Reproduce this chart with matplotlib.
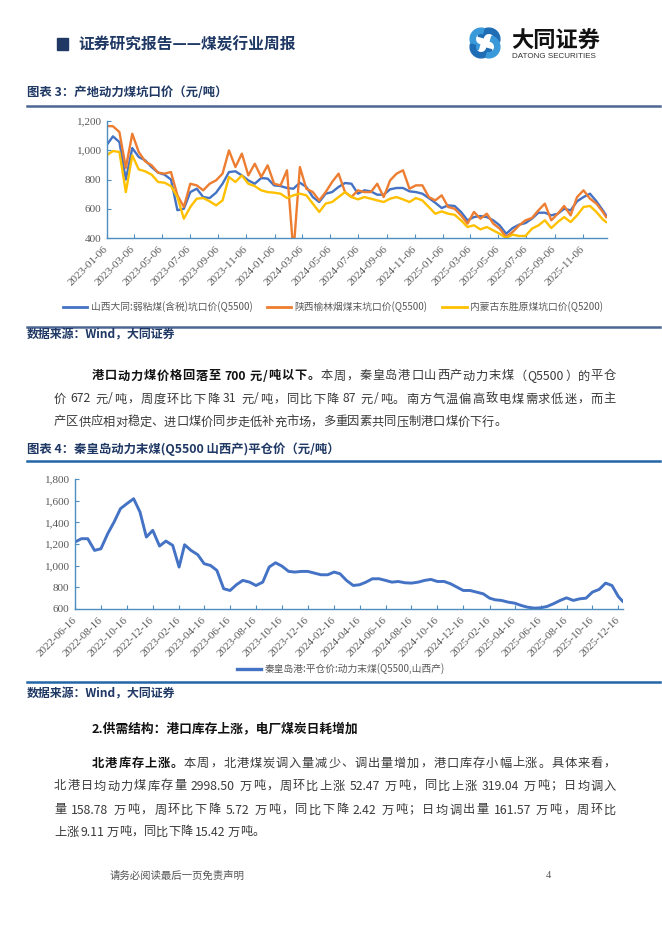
import matplotlib
matplotlib.use("Agg")
import matplotlib.pyplot as plt
import matplotlib.dates as mdates
from matplotlib.patches import Rectangle, Wedge
from matplotlib.lines import Line2D
from matplotlib.ticker import FuncFormatter, FixedLocator
import numpy as np
import pandas as pd

CJK = ["Noto Sans CJK SC", "DejaVu Sans"]
SERIF = ["Liberation Serif", "DejaVu Serif"]
plt.rcParams["font.family"] = CJK

# ---------------- Chart 3 data (weekly prices, sampled every 2 weeks) ----------------
c3_dates = list(pd.date_range("2023-01-06", periods=78, freq="14D")) + [pd.Timestamp("2025-12-26")]
c3_shanxi = [1034, 1095, 1056, 800, 1015, 954, 931, 885, 847, 833,
             800, 590, 600, 714, 737, 680, 673, 710, 771, 851,
             856, 828, 794, 771, 810, 806, 760, 755, 742, 737,
             778, 749, 680, 646, 703, 714, 749, 776, 771, 703,
             726, 719, 696, 696, 733, 742, 742, 719, 714, 703,
             673, 641, 605, 623, 619, 578, 521, 543, 550, 543,
             521, 486, 429, 468, 491, 502, 532, 573, 573, 555,
             566, 600, 589, 651, 680, 703, 651, 589, 555]
c3_shaanxi = [1166, 1164, 1125, 880, 1113, 988, 924, 897, 847, 840,
              851, 692, 612, 771, 760, 726, 771, 794, 840, 999,
              885, 977, 828, 908, 817, 897, 771, 760, 863, 300,
              885, 737, 714, 657, 714, 783, 840, 714, 680, 726,
              714, 714, 771, 680, 794, 840, 863, 737, 760, 760,
              680, 657, 692, 612, 600, 555, 498, 578, 532, 566,
              498, 464, 407, 441, 486, 521, 537, 589, 635, 521,
              566, 619, 555, 680, 726, 669, 635, 578, 543]
c3_neimeng = [965, 995, 988, 714, 965, 869, 856, 833, 783, 778,
              755, 680, 532, 612, 669, 673, 651, 623, 657, 817,
              783, 828, 771, 755, 726, 714, 710, 703, 673, 692,
              703, 692, 635, 578, 635, 646, 680, 714, 680, 664,
              680, 669, 657, 646, 669, 680, 664, 646, 673, 657,
              612, 566, 582, 566, 559, 521, 475, 487, 459, 475,
              452, 429, 400, 423, 414, 414, 464, 486, 521, 468,
              509, 543, 509, 555, 612, 619, 578, 527, 509]
c3_names = ["山西大同:弱粘煤(含税)坑口价(Q5500)", "陕西榆林烟煤末坑口价(Q5500)", "内蒙古东胜原煤坑口价(Q5200)"]
c3_colors = ["#4472C4", "#ED7D31", "#FFC000"]
c3_xticks = pd.date_range("2023-01-06", "2025-11-06", freq=pd.DateOffset(months=2))
c3_yticks = [400, 600, 800, 1000, 1200]

# ---------------- Chart 4 data (semi-monthly readings) ----------------
c4_dates = ["2022-06-16"]
for yy in range(2022, 2026):
    for mm in range(1, 13):
        if yy == 2022 and mm < 7:
            continue
        c4_dates += [f"{yy}-{mm:02d}-01", f"{yy}-{mm:02d}-16"]
c4_dates += ["2025-12-26"]
c4_dates = pd.to_datetime(c4_dates)
c4_values = ([1218, 1249, 1249, 1141, 1156, 1295, 1403, 1526, 1572, 1618, 1495, 1264, 1326] +
             [1181, 1227, 1187, 987, 1193, 1141, 1101, 1018, 1002, 956, 787, 771,
              824, 864, 848, 817, 848, 987, 1027, 996, 947, 941, 947, 947] +
             [931, 916, 916, 941, 925, 864, 817, 824, 848, 879, 879, 864,
              848, 854, 842, 839, 848, 864, 873, 854, 854, 833, 802, 771] +
             [771, 756, 740, 700, 685, 679, 663, 654, 633, 617, 608, 611,
              623, 648, 679, 703, 679, 694, 700, 756, 781, 839, 817, 715, 672])
c4_name = "秦皇岛港:平仓价:动力末煤(Q5500,山西产)"
c4_xticks = pd.date_range("2022-06-16", "2025-12-16", freq=pd.DateOffset(months=2))
c4_yticks = [600, 800, 1000, 1200, 1400, 1600, 1800]

# ---------------- page setup ----------------
W, H = 662, 936
fig = plt.figure(figsize=(W / 100, H / 100), dpi=100)
fig.patch.set_facecolor("white")
renderer = fig.canvas.get_renderer()


def fx(px):
    return px / W


def fy(py):
    return 1 - py / H


NAVY = "#1F3864"
AXC = "#4F8EC1"
TICKC = "#595959"


def hline(y, x0, x1, color, lw=1.6):
    fig.add_artist(Line2D([fx(x0), fx(x1)], [fy(y), fy(y)], color=color, lw=lw,
                          transform=fig.transFigure))


def is_wide(ch):
    o = ord(ch)
    return o >= 0x2E80 or (0xFF00 <= o <= 0xFFEF)


def tokens(s):
    out, buf = [], ""
    for ch in s:
        if ch == " " or is_wide(ch):
            if buf:
                out.append(buf)
                buf = ""
            out.append(ch)
        else:
            buf += ch
    if buf:
        out.append(buf)
    return out


def text_line(x0, y, segs, x1=None, size=8.8, color="#3a3a3a", bcolor="#111111"):
    em = size * 100 / 72
    objs, widths = [], []
    for s, bold in segs:
        for tk in tokens(s):
            t = fig.text(0, fy(y), tk, fontsize=size, fontweight="bold" if bold else "normal",
                         color=bcolor if bold else color, va="center", ha="left", family=CJK)
            if tk == " ":
                w = 0.18 * em
            elif is_wide(tk[0]):
                w = em
            else:
                w = t.get_window_extent(renderer).width + 0.03 * em
            objs.append(t)
            widths.append(w)
    gap = 0.0
    if x1 is not None and len(objs) > 1:
        gap = (x1 - x0 - sum(widths)) / (len(objs) - 1)
    x = x0
    for t, w in zip(objs, widths):
        t.set_x(fx(x))
        x += w + gap


# ---------------- header ----------------
fig.add_artist(Rectangle((fx(57), fy(50)), 11 / W, 12 / H, color=NAVY, transform=fig.transFigure))
fig.text(fx(78), fy(44), "证券研究报告——煤炭行业周报", fontsize=11.3, fontweight="bold",
         color=NAVY, va="center", ha="left", family=CJK)

axl = fig.add_axes([fx(467), fy(61), 36 / W, 36 / H])
axl.set_xlim(-18, 18)
axl.set_ylim(-18, 18)
axl.axis("off")
for k in range(4):
    a = 90 * k + 45
    cx, cy = 5.5 * np.cos(np.radians(a)), 5.5 * np.sin(np.radians(a))
    axl.add_patch(Wedge((cx, cy), 11, a - 60, a + 120, width=5.2,
                        color="#1F6DB5" if k % 2 == 0 else "#3A9AD9"))
fig.text(fx(511), fy(41), "大同证券", fontsize=16, fontweight="bold", color="#111111",
         va="center", ha="left", family=CJK)
fig.text(fx(512), fy(57), "DATONG SECURITIES", fontsize=5.8, color="#333333",
         va="center", ha="left", family=["Liberation Sans", "DejaVu Sans"])

# ---------------- chart 3 ----------------
fig.text(fx(27), fy(92), "图表 3：产地动力煤坑口价（元/吨）", fontsize=8.9, fontweight="bold",
         color=NAVY, va="center", ha="left", family=CJK)
hline(105.5, 27, 660, "#4D6794", 1.8)

ax1 = fig.add_axes([fx(106.5), fy(238), (607 - 106.5) / W, (238 - 121) / H])
for vals, col, name in zip([c3_shanxi, c3_shaanxi, c3_neimeng], c3_colors, c3_names):
    ax1.plot(c3_dates, vals, color=col, lw=1.7, label=name, solid_joinstyle="round")
ax1.set_ylim(400, 1200)
ax1.set_xlim(pd.Timestamp("2023-01-06"), pd.Timestamp("2025-12-28"))
ax1.yaxis.set_major_locator(FixedLocator(c3_yticks))
ax1.xaxis.set_major_locator(FixedLocator(mdates.date2num(c3_xticks)))
ax1.xaxis.set_major_formatter(mdates.DateFormatter("%Y-%m-%d"))

# ---------------- chart 4 ----------------
fig.text(fx(27), fy(449), "图表 4：秦皇岛动力末煤(Q5500 山西产)平仓价（元/吨）", fontsize=8.9,
         fontweight="bold", color=NAVY, va="center", ha="left", family=CJK)
hline(461, 27, 660, "#2366A8", 1.8)

ax2 = fig.add_axes([fx(75), fy(609), (623 - 75) / W, (609 - 479) / H])
ax2.plot(c4_dates, c4_values, color="#4472C4", lw=2.1, label=c4_name, solid_joinstyle="round")
ax2.set_ylim(600, 1800)
ax2.set_xlim(pd.Timestamp("2022-06-16"), pd.Timestamp("2025-12-27"))
ax2.yaxis.set_major_locator(FixedLocator(c4_yticks))
ax2.xaxis.set_major_locator(FixedLocator(mdates.date2num(c4_xticks)))
ax2.xaxis.set_major_formatter(mdates.DateFormatter("%Y-%m-%d"))

for ax in (ax1, ax2):
    ax.set_facecolor("white")
    for s in ("top", "right"):
        ax.spines[s].set_visible(False)
    for s in ("left", "bottom"):
        ax.spines[s].set_color(AXC)
        ax.spines[s].set_linewidth(1.0)
    ax.yaxis.set_major_formatter(FuncFormatter(lambda v, p: f"{int(v):,}"))
    ax.tick_params(axis="both", direction="in", length=3, width=0.8, color=AXC,
                   labelsize=8.1, labelcolor=TICKC)
    ax.tick_params(axis="y", pad=4)
    ax.tick_params(axis="x", pad=7)
    for lab in ax.get_yticklabels():
        lab.set_family(SERIF)
    for lab in ax.get_xticklabels():
        lab.set_family(SERIF)
        lab.set_rotation(45)
        lab.set_ha("right")
        lab.set_va("center")
        lab.set_rotation_mode("anchor")

leg1 = ax1.legend(loc="center", bbox_to_anchor=(fx(333), fy(307)), bbox_transform=fig.transFigure,
                  ncol=3, frameon=False, fontsize=7, handlelength=2.5, handletextpad=0.35,
                  columnspacing=1.5, labelcolor=TICKC)
for l in leg1.get_lines():
    l.set_linewidth(2.0)
leg2 = ax2.legend(loc="center", bbox_to_anchor=(fx(341), fy(669)), bbox_transform=fig.transFigure,
                  ncol=1, frameon=False, fontsize=7, handlelength=2.5, handletextpad=0.35,
                  labelcolor=TICKC)
for l in leg2.get_lines():
    l.set_linewidth(2.4)

hline(327, 27, 660, "#4D6794", 1.8)
fig.text(fx(27), fy(335), "数据来源：Wind，大同证券", fontsize=8.6, fontweight="bold",
         color=NAVY, va="center", ha="left", family=CJK)

hline(682, 27, 660, "#2366A8", 1.8)
fig.text(fx(27), fy(694), "数据来源：Wind，大同证券", fontsize=8.6, fontweight="bold",
         color=NAVY, va="center", ha="left", family=CJK)

# ---------------- body text ----------------
L, R = 54, 616
text_line(92, 376, [("港口动力煤价格回落至 700 元/吨以下。", True), ("本周，秦皇岛港口山西产动力末煤（Q5500）的平仓", False)], R)
text_line(L, 399, [("价 672 元/吨，周度环比下降 31 元/吨，同比下降 87 元/吨。南方气温偏高致电煤需求低迷，而主", False)], R)
text_line(L, 422, [("产区供应相对稳定、进口煤价同步走低补充市场，多重因素共同压制港口煤价下行。", False)])

fig.text(fx(92), fy(729), "2.供需结构：港口库存上涨，电厂煤炭日耗增加", fontsize=9.2, fontweight="bold",
         color="#111111", va="center", ha="left", family=CJK)

text_line(92, 763, [("北港库存上涨。", True), ("本周，北港煤炭调入量减少、调出量增加，港口库存小幅上涨。具体来看，", False)], R)
text_line(L, 786, [("北港日均动力煤库存量 2998.50 万吨，周环比上涨 52.47 万吨，同比上涨 319.04 万吨；日均调入", False)], R)
text_line(L, 810, [("量 158.78 万吨，周环比下降 5.72 万吨，同比下降 2.42 万吨；日均调出量 161.57 万吨，周环比", False)], R)
text_line(L, 832, [("上涨 9.11 万吨，同比下降 15.42 万吨。", False)])

# ---------------- footer ----------------
fig.text(fx(110), fy(876), "请务必阅读最后一页免责声明", fontsize=7.5, color="#555555",
         va="center", ha="left", family=CJK)
fig.text(fx(546), fy(876), "4", fontsize=7.5, color="#555555", va="center", ha="left", family=SERIF)

fig.savefig("out.png", dpi=100, facecolor="white")
